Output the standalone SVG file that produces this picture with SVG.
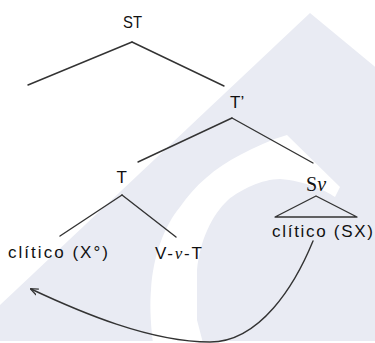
<svg xmlns="http://www.w3.org/2000/svg" width="375" height="343" viewBox="0 0 375 343">
  <defs>
    <style>
      .lbl { font-family: "Liberation Sans", Arial, sans-serif; font-size: 17px; fill: #111; }
      .it { font-family: "Liberation Serif", "Times New Roman", serif; font-style: italic; }
      .ser { font-family: "Liberation Serif", "Times New Roman", serif; font-size: 20px; }
      .edge { stroke: #333; stroke-width: 1.4; fill: none; stroke-linecap: round; }
    </style>
    <marker id="arrow" viewBox="0 0 10 10" refX="9" refY="5" markerWidth="8" markerHeight="8" orient="auto" markerUnits="userSpaceOnUse">
      <path d="M0,1 L10,5 L0,9" fill="none" stroke="#333" stroke-width="1.6"/>
    </marker>
  </defs>
  <rect width="375" height="343" fill="#ffffff"/>
  <g id="watermark">
    <path d="M310,13 L385,75 L385,341 L0,341 L0,305 Z" fill="#e9ebf3"/>
    <path d="M287,135 L340,187 L335,197 C325,190 305,181 280,179 C262,179 240,190 228,200 C212,215 200,240 197,270 L197,320 L203,343 L153,343 C150,320 150,300 151,290 C153,255 165,225 180,207 C195,185 215,168 240,155 C255,147 270,140 287,135 Z" fill="#ffffff"/>
  </g>
  <g id="connectors">
    <line class="edge" x1="132" y1="42" x2="28" y2="85"/>
    <line class="edge" x1="132" y1="42" x2="224" y2="86"/>
    <line class="edge" x1="232" y1="118" x2="138" y2="162"/>
    <line class="edge" x1="232" y1="118" x2="313" y2="163"/>
    <line class="edge" x1="122" y1="195" x2="60" y2="236"/>
    <line class="edge" x1="122" y1="195" x2="176" y2="237"/>
    <path class="edge" d="M316,196 L275,217 L357,217 Z" stroke-linejoin="round"/>
    <path class="edge" d="M313,241 C295,285 260,342 210,342 C150,342 80,312 31,289" marker-end="url(#arrow)"/>
  </g>
  <g id="ST"><text class="lbl" x="123" y="28" textLength="19" lengthAdjust="spacingAndGlyphs">ST</text></g>
  <g id="Tbar"><text class="lbl" x="230" y="108">T’</text></g>
  <g id="T"><text class="lbl" x="116.5" y="183">T</text></g>
  <g id="Sv"><text class="lbl ser" x="306" y="191">S<tspan class="it">v</tspan></text></g>
  <g id="clitico-X"><text class="lbl" x="8" y="258" textLength="100" lengthAdjust="spacing">clítico (X°)</text></g>
  <g id="VvT"><text class="lbl" x="155" y="259" textLength="47" lengthAdjust="spacing">V-<tspan class="it">v</tspan>-T</text></g>
  <g id="clitico-SX"><text class="lbl" x="272" y="237" textLength="101" lengthAdjust="spacing">clítico (SX)</text></g>
</svg>
